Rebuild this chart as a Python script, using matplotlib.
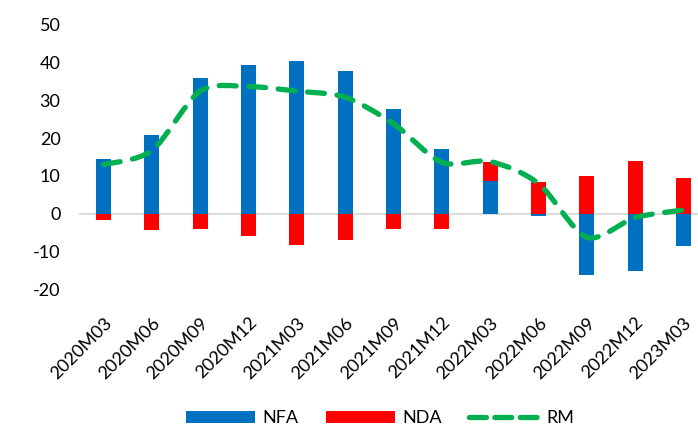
import matplotlib
matplotlib.use("Agg")
import matplotlib.pyplot as plt
from matplotlib.path import Path
from matplotlib.patches import PathPatch
from matplotlib.lines import Line2D
import numpy as np

plt.rcParams['font.family'] = ['Lato', 'DejaVu Sans']

periods = ["2020M03", "2020M06", "2020M09", "2020M12", "2021M03", "2021M06",
           "2021M09", "2021M12", "2022M03", "2022M06", "2022M09", "2022M12",
           "2023M03"]
nfa = [14.4, 20.9, 36.0, 39.4, 40.4, 37.8, 27.8, 17.2, 8.7, -0.5, -16.1, -15.2, -8.6]
nda = [-1.6, -4.2, -3.9, -5.9, -8.3, -6.9, -4.1, -3.9, 5.0, 8.5, 9.9, 13.9, 9.4]
rm = [13.0, 16.7, 32.4, 33.6, 32.4, 30.8, 23.8, 13.6, 13.8, 8.0, -6.2, -1.0, 1.0]
y_ticks = [-20, -10, 0, 10, 20, 30, 40, 50]

BLUE = "#0070C0"
RED = "#FF0000"
GREEN = "#00B050"
TEXT = "#000000"

W, H = 698, 428
fig = plt.figure(figsize=(W / 100, H / 100), dpi=100)
ax = fig.add_axes([79.3 / W, (H - 289.5) / H, 628.3 / W, 265.0 / H])

x = np.arange(len(periods))
bw = 0.31

# stacked columns: positives build up from zero, negatives build down
pos_base = np.zeros(len(x))
neg_base = np.zeros(len(x))
for vals, col in ((nfa, BLUE), (nda, RED)):
    vals = np.asarray(vals, dtype=float)
    bottoms = np.where(vals >= 0, pos_base, neg_base)
    ax.bar(x, vals, bw, bottom=bottoms, color=col, zorder=2, linewidth=0)
    pos_base = pos_base + np.where(vals >= 0, vals, 0)
    neg_base = neg_base + np.where(vals < 0, vals, 0)

ax.axhline(0, color="#D9D9D9", lw=1.3, zorder=1)

# smoothed RM line (cardinal spline through the points)
px = x.astype(float)
py = np.asarray(rm, dtype=float)
k = 1 / 7
verts = [(px[0], py[0])]
codes = [Path.MOVETO]
n = len(px)
for i in range(n - 1):
    p0 = (px[i - 1], py[i - 1]) if i > 0 else (px[i], py[i])
    p1 = (px[i], py[i])
    p2 = (px[i + 1], py[i + 1])
    p3 = (px[i + 2], py[i + 2]) if i + 2 < n else p2
    c1 = (p1[0] + (p2[0] - p0[0]) * k, p1[1] + (p2[1] - p0[1]) * k)
    c2 = (p2[0] - (p3[0] - p1[0]) * k, p2[1] - (p3[1] - p1[1]) * k)
    verts += [c1, c2, p2]
    codes += [Path.CURVE4] * 3
rm_patch = PathPatch(Path(verts, codes), facecolor="none", edgecolor=GREEN,
                     lw=3.8, linestyle=(0, (3.2, 2.4)), capstyle="round",
                     zorder=3)
ax.add_patch(rm_patch)

ax.set_xlim(-0.5, len(periods) - 0.5)
ax.set_ylim(-20, 50)
ax.set_yticks(y_ticks)
ax.set_yticklabels([str(v) for v in y_ticks])
ax.set_xticks(x)
ax.set_xticklabels(periods, rotation=45, ha="right", va="top",
                   rotation_mode="anchor")
ax.tick_params(axis="y", length=0, pad=13.5, labelsize=13, colors=TEXT)
ax.tick_params(axis="x", length=0, pad=18, labelsize=13, colors=TEXT)
for s in ax.spines.values():
    s.set_visible(False)
ax.set_facecolor("none")

handles = [
    Line2D([], [], color=BLUE, lw=8.6, solid_capstyle="butt"),
    Line2D([], [], color=RED, lw=8.6, solid_capstyle="butt"),
    Line2D([], [], color=GREEN, lw=3.8, linestyle=(0, (3.2, 1.6)),
           dash_capstyle="round"),
]
fig.legend(handles, ["NFA", "NDA", "RM"], loc="center",
           bbox_to_anchor=(380 / W, 1 - 418 / H), ncol=3, frameon=False,
           fontsize=13, handlelength=3.8, handletextpad=0.45,
           columnspacing=1.5)

fig.savefig("out.png", dpi=100)
